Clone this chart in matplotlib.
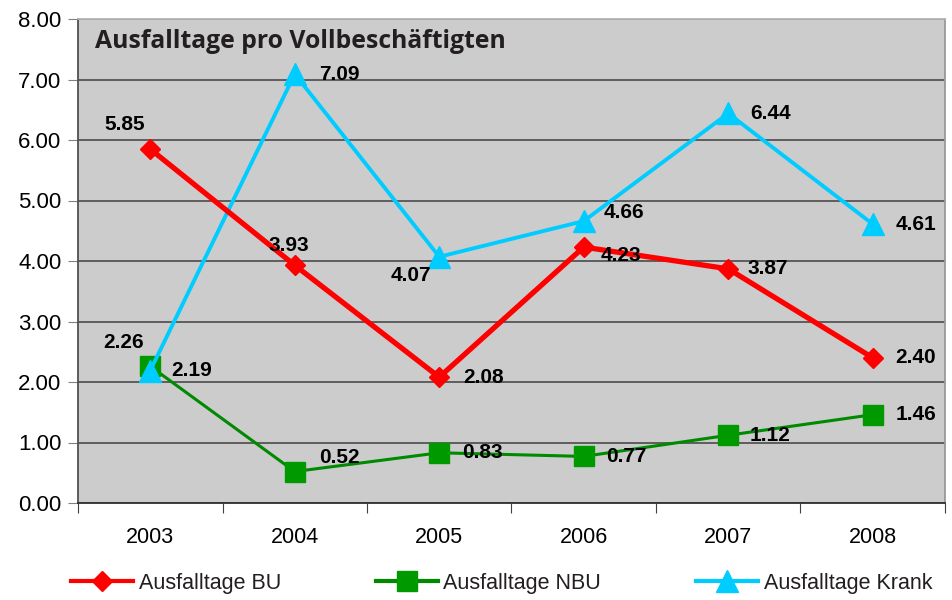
import matplotlib.pyplot as plt
import numpy as np

# Daten
jahre = ['2003', '2004', '2005', '2006', '2007', '2008']
bu = [5.85, 3.93, 2.08, 4.23, 3.87, 2.40]
nbu = [2.26, 0.52, 0.83, 0.77, 1.12, 1.46]
krank = [2.19, 7.09, 4.07, 4.66, 6.44, 4.61]

# Beschriftungs-Versatz in Pixeln (x, y)
off_bu = [(-26, 25), (-6, 20), (44, 0), (37, -8), (40, 0), (43, 0)]
off_nbu = [(-27, 24), (45, 14), (43, 0), (43, 0), (42, 0), (43, 0)]
off_krank = [(41, 0), (45, 0), (-28, -19), (40, 9), (42, 0), (43, 0)]

fig = plt.figure(figsize=(9.53, 6.0), dpi=100)
ax = fig.add_axes([78/953, 1 - 503/600, 867/953, 484/600])
ax.set_facecolor('#cccccc')

x = np.arange(len(jahre))

ax.plot(x, nbu, color='#008a00', lw=2.2, marker='s', ms=15,
        mfc='#009900', mec='#009900', label='Ausfalltage NBU', zorder=3)
ax.plot(x, krank, color='#00ccff', lw=2.8, marker='^', ms=15.5,
        mfc='#00ccff', mec='#00ccff', label='Ausfalltage Krank', zorder=4)
ax.plot(x, bu, color='#ff0000', lw=3.8, marker='D', ms=10.5,
        mfc='#ff0000', mec='#ff0000', label='Ausfalltage BU', zorder=5)

for serie, offs in [(bu, off_bu), (nbu, off_nbu), (krank, off_krank)]:
    for xi, v, o in zip(x, serie, offs):
        ax.annotate(f'{v:.2f}', (xi, v), xytext=o, textcoords='offset pixels',
                    ha='center', va='center', fontsize=15, fontweight='bold',
                    family='Liberation Sans', color='black', zorder=6)

ax.set_xlim(-0.5, 5.5)
ax.set_ylim(0, 8)
ax.set_yticks(np.arange(0, 9, 1))
ax.set_yticklabels([f'{v:.2f}' for v in range(9)], family='Liberation Sans', fontsize=16)
ax.yaxis.grid(True, color='#404040', lw=1.1)
ax.set_axisbelow(True)

ax.set_xticks(np.arange(-0.5, 6, 1))
ax.set_xticklabels([])
ax.set_xticks(x, minor=True)
ax.set_xticklabels(jahre, minor=True, family='Liberation Sans', fontsize=15.5)
ax.tick_params(axis='x', which='major', length=7, color='#404040')
ax.tick_params(axis='x', which='minor', length=0, pad=17)
ax.tick_params(axis='y', length=7, color='#808080', pad=5)

ax.spines['left'].set_color('#505050')
ax.spines['bottom'].set_color('#303030')
ax.spines['top'].set_color('#b4b4b4')
ax.spines['right'].set_color('#999999')
for s in ax.spines.values():
    s.set_linewidth(1.3)

ax.text(17/867, 0.954, 'Ausfalltage pro Vollbeschäftigten', transform=ax.transAxes,
        ha='left', va='center', fontsize=17.8, fontweight='bold',
        family='Open Sans', color='#231f20')

h, l = ax.get_legend_handles_labels()
order = [2, 0, 1]
leg = fig.legend([h[i] for i in order], [l[i] for i in order], loc='center',
                 bbox_to_anchor=(501.5/953, 1 - 583/600), ncol=3, frameon=False,
                 handlelength=2.9, columnspacing=4.4, handletextpad=0.25,
                 prop={'family': 'Liberation Sans', 'size': 15.5})
for t in leg.get_texts():
    t.set_color('#231f20')
for ln in leg.get_lines():
    ln.set_linewidth(3)

fig.savefig('out.png', dpi=100, facecolor='white')
